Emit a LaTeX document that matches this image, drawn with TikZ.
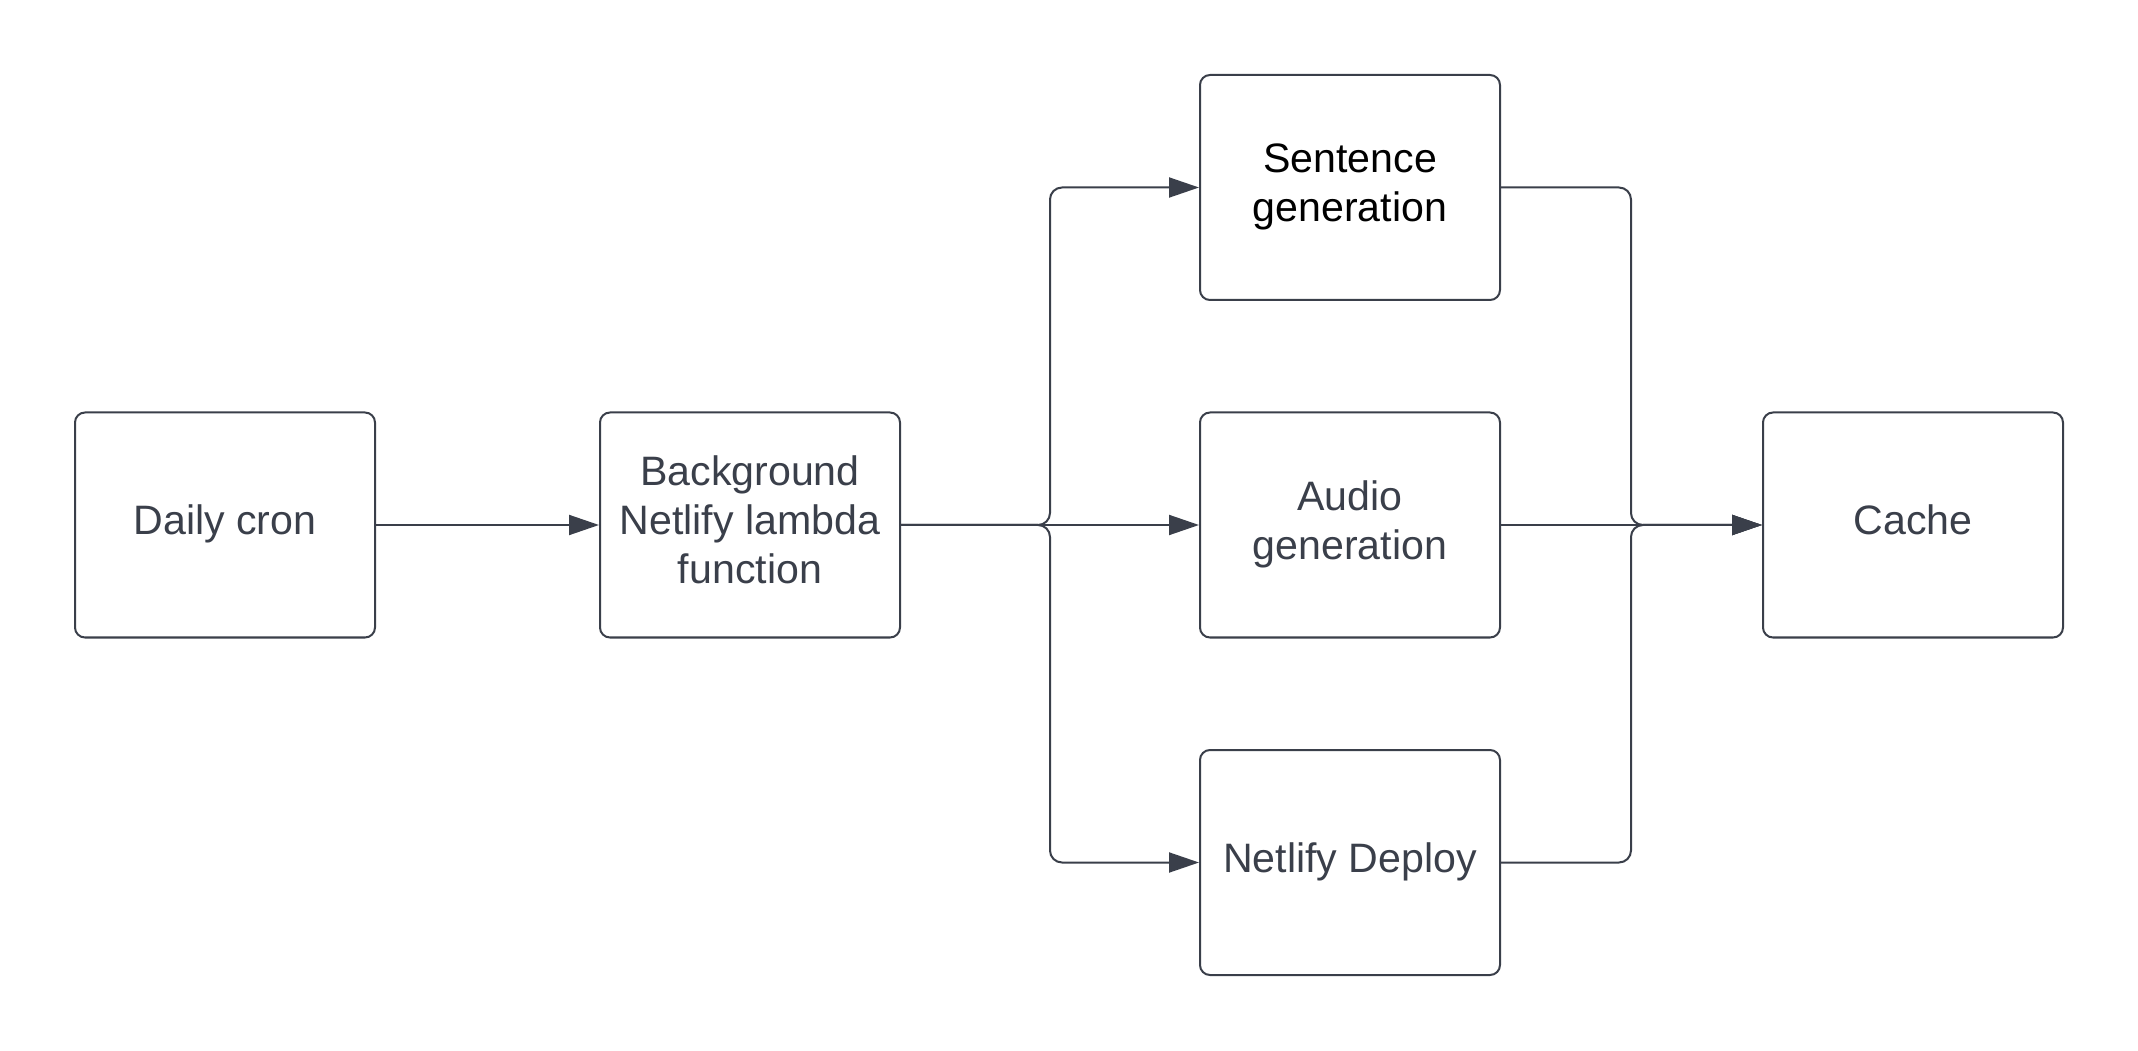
\documentclass[tikz,border=0pt]{standalone}
\usepackage{fontspec}
\setmainfont{Liberation Sans}
\usetikzlibrary{arrows.meta}
\definecolor{ink}{RGB}{58,63,74}
\newcommand{\boxtext}[1]{\begin{tabular}{@{}c@{}}#1\end{tabular}}
\tikzset{
  box/.style={draw=ink, line width=0.02cm, rounded corners=0.1cm, minimum width=3cm, minimum height=2.25cm, inner sep=0pt, text=ink, font=\fontsize{11.7}{13.95}\selectfont},
  conn/.style={draw=ink, line width=0.02cm, rounded corners=0.12cm},
  arr/.style={conn, -{Triangle[length=0.3cm,width=0.2cm]}}
}
\begin{document}
\begin{tikzpicture}
\useasboundingbox (0,0) rectangle (21.38,10.5);
\node[box] (cron) at (2.25,5.25) {\boxtext{Daily cron}};
\node[box] (bg) at (7.5,5.25) {\boxtext{Background\\Netlify lambda\\function}};
\node[box, text=black] (sent) at (13.5,8.625) {\boxtext{Sentence\\generation}};
\node[box] (aud) at (13.5,5.25) {\boxtext{Audio\\generation}};
\node[box] (dep) at (13.5,1.875) {\boxtext{Netlify Deploy}};
\node[box] (cache) at (19.13,5.25) {\boxtext{Cache}};
\coordinate (bx) at (10.5,5.25);
\coordinate (mx) at (16.31,5.25);
\draw[arr] (cron.east) -- (bg.west);
\draw[arr] (bg.east) -- (aud.west);
\draw[arr] (bg.east) -- (bx) |- (sent.west);
\draw[arr] (bg.east) -- (bx) |- (dep.west);
\draw[arr] (aud.east) -- (cache.west);
\draw[arr] (sent.east) -| (mx) -- (cache.west);
\draw[arr] (dep.east) -| (mx) -- (cache.west);
\end{tikzpicture}
\end{document}
